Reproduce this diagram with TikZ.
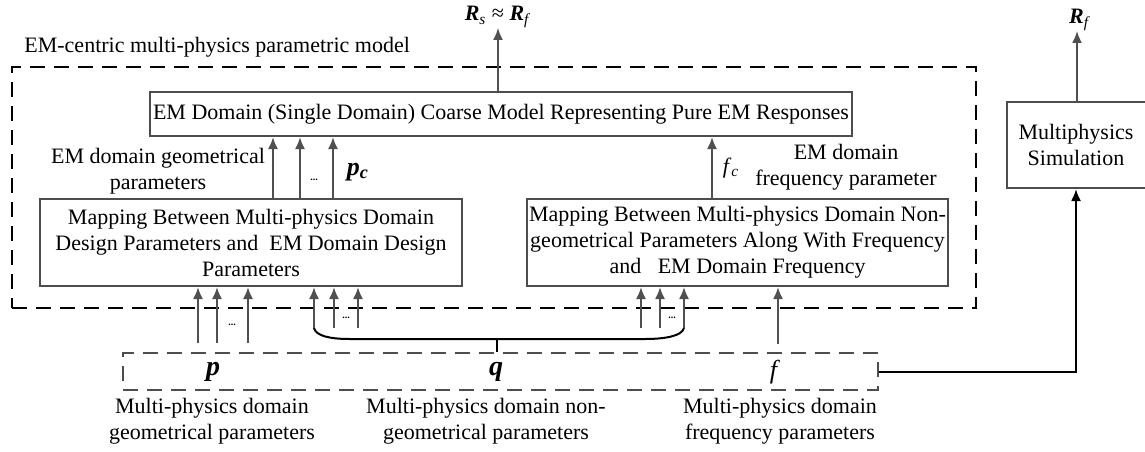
\documentclass[tikz,border=0pt]{standalone}
\usepackage{fontspec}
\setmainfont{Liberation Serif}
\usetikzlibrary{arrows.meta}
\definecolor{boxgray}{HTML}{4D4D4D}
\definecolor{arrgray}{HTML}{505050}
\newcommand{\bi}[1]{\textbf{\textit{#1}}}
\begin{document}
\begin{tikzpicture}[x=0.5pt,y=-0.5pt,
  font=\fontsize{11}{13}\selectfont,
  box/.style={draw=boxgray, line width=1pt, inner sep=0pt, align=center},
  dbox/.style={draw=black, line width=1pt, dash pattern=on 7.5pt off 4.5pt, inner sep=0pt},
  ddbox/.style={draw=boxgray, line width=0.8pt, dash pattern=on 7.5pt off 4.5pt, inner sep=0pt},
  arr/.style={draw=arrgray, line width=1pt, -{Latex[length=6pt,width=5pt]}},
  barr/.style={draw=black, line width=1pt, -{Latex[length=6pt,width=5pt]}},
  lbl/.style={inner sep=0pt, align=center},
  dots/.style={inner sep=0pt, font=\tiny\bfseries}]
\useasboundingbox (0,0) rectangle (1145,451);

% boxes
\node[dbox, minimum width=482pt, minimum height=120.5pt] (outer) at (494,187.5) {};
\node[lbl, anchor=west] (outerlbl) at (24,47) {EM-centric multi-physics parametric model};
\node[box, minimum width=351pt, minimum height=22pt] (top) at (501,114)
  {EM Domain (Single Domain) Coarse Model Representing Pure EM Responses};
\node[box, minimum width=211pt, minimum height=43.5pt] (mapL) at (251,242.5)
  {Mapping Between Multi-physics Domain\\Design Parameters and~ EM Domain Design\\Parameters};
\node[box, minimum width=210.5pt, minimum height=43.5pt] (mapR) at (737.5,242.5)
  {Mapping Between Multi-physics Domain Non-\\geometrical Parameters Along With Frequency\\and~~ EM Domain Frequency};
\node[box, minimum width=69.5pt, minimum height=43pt] (sim) at (1076,145)
  {Multiphysics\\Simulation};
\node[ddbox, minimum width=377.5pt, minimum height=18.5pt] (bot) at (500.5,371.5) {};

% output labels
\node[lbl] (rsrf) at (498,17) {\bi{R}\textsubscript{\textit{s}} ≈ \bi{R}\textsubscript{\textit{f}}};
\node[lbl] (rf) at (1080,20) {\bi{R}\textsubscript{\textit{f}}};
\draw[arr] (top.north -| rsrf) -- (rsrf.south);
\draw[arr] (sim.north -| 1077,0) -- (rf.south -| 1077,0);

% arrows from left mapping to top
\foreach \i/\x in {1/273,2/300,3/333}{
  \coordinate (pc\i) at (\x,199);
  \draw[arr] (pc\i) -- (pc\i |- top.south);
}
\node[dots] (pcdots) at (314,180) {...};
\node[lbl] (pclbl) at (358,172) {\fontsize{13}{13}\selectfont\bi{p}\textsubscript{\bi{c}}};
\node[lbl] (geomlbl) at (158,171) {EM domain geometrical\\parameters};

% fc arrow
\coordinate (fc) at (712,199);
\draw[arr] (fc) -- (fc |- top.south);
\node[lbl] (fclbl) at (731,168) {\textit{f}\textsubscript{\textit{c}}};
\node[lbl] (freqlbl) at (846,167) {EM domain\\frequency parameter};

% p arrows
\foreach \i/\x in {1/198,2/217,3/248}{
  \coordinate (pa\i) at (\x,343);
  \draw[arr] (pa\i) -- (pa\i |- mapL.south);
}
\node[dots] (pdots) at (232,325) {...};

% q arrows to left map
\foreach \i/\x in {1/314,2/334,3/358}{
  \coordinate (qa\i) at (\x,328);
  \draw[arr] (qa\i) -- (qa\i |- mapL.south);
}
\node[dots] (qdotsL) at (346,318) {...};

% q arrows to right map
\foreach \i/\x in {1/641,2/660,3/684}{
  \coordinate (qb\i) at (\x,328);
  \draw[arr] (qb\i) -- (qb\i |- mapR.south);
}
\node[dots] (qdotsR) at (672,318) {...};

% f arrow
\coordinate (fa) at (778,344);
\draw[arr] (fa) -- (fa |- mapR.south);

% brace
\coordinate (brL) at (350,339);
\coordinate (brR) at (645,339);
\coordinate (brM) at (497,339);
\draw[line width=1pt] (qa1) .. controls (316,336) and (330,339) .. (brL) -- (brR)
  .. controls (665,339) and (682,336) .. (qb3);
\draw[line width=1pt] (brM) -- (brM |- bot.north);

% bottom labels
\node[lbl] (plbl) at (213,372) {\fontsize{14}{14}\selectfont\bi{p}};
\node[lbl] (qlbl) at (496,372) {\fontsize{14}{14}\selectfont\bi{q}};
\node[lbl] (flbl) at (775,372) {\fontsize{13}{13}\selectfont\textit{f}};
\node[lbl] (pdesc) at (212,421) {Multi-physics domain\\geometrical parameters};
\node[lbl] (qdesc) at (486,421) {Multi-physics domain non-\\geometrical parameters};
\node[lbl] (fdesc) at (780,421) {Multi-physics domain\\frequency parameters};

% to simulation
\draw[barr] (bot.east) -| (sim.south);
\end{tikzpicture}
\end{document}
